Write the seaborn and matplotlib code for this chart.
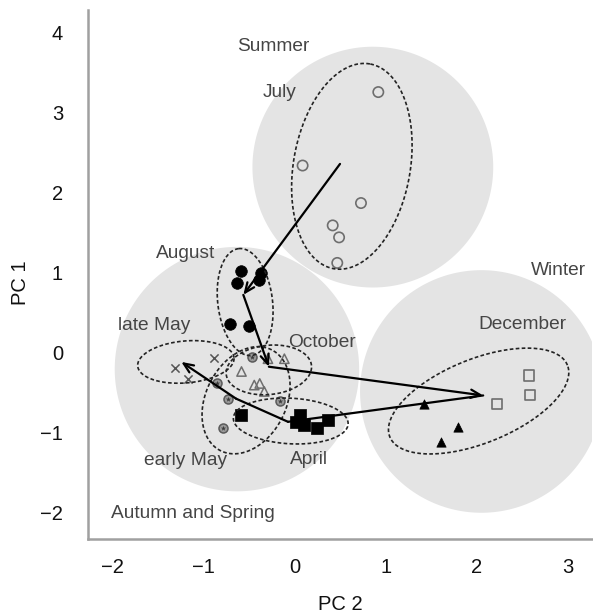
import numpy as np
import pandas as pd
import matplotlib
matplotlib.use("Agg")
import matplotlib.pyplot as plt
import seaborn as sns

# ---------------- data ----------------
july_x = [0.92, 0.09, 0.73, 0.42, 0.49, 0.47]
july_y = [3.26, 2.34, 1.87, 1.59, 1.44, 1.12]
aug_x = [-0.58, -0.37, -0.63, -0.39, -0.71, -0.50]
aug_y = [1.02, 1.00, 0.87, 0.90, 0.36, 0.33]
oct_x = [-0.58, -0.11, -0.44, -0.38, -0.33, -0.29]
oct_y = [-0.24, -0.08, -0.41, -0.39, -0.49, -0.08]
latemay_x = [-1.31, -0.88, -1.17]
latemay_y = [-0.19, -0.07, -0.33]
earlymay_x = [-0.85, -0.73, -0.78, -0.47, -0.16]
earlymay_y = [-0.39, -0.59, -0.95, -0.06, -0.61]
april_x = [-0.58, 0.06, 0.10, 0.25, 0.37, 0.02]
april_y = [-0.79, -0.79, -0.91, -0.95, -0.85, -0.87]
dec_sq_x = [2.57, 2.58, 2.22]
dec_sq_y = [-0.29, -0.53, -0.65]
dec_tri_x = [1.79, 1.61, 1.42]
dec_tri_y = [-0.93, -1.12, -0.65]

# centroid trajectory
path_names = ["July", "August", "October", "December", "April", "early May", "late May"]
path_x = [0.50, -0.56, -0.28, 2.07, -0.07, -0.64, -1.24]
path_y = [2.36, 0.72, -0.18, -0.54, -0.87, -0.58, -0.12]
path_head = [True, True, True, False, False, True]

# season circles (centre, radius in x-units)
season_names = ["Summer", "Autumn and Spring", "Winter"]
season_cx = [0.86, -0.63, 2.05]
season_cy = [2.32, -0.21, -0.49]
season_r = [1.32, 1.34, 1.33]

# month ellipses (centre, semi-axes in x-units, angle in degrees)
ell_names = ["July", "August", "late May", "October", "early May", "April", "December"]
ell_cx = [0.63, -0.54, -1.19, -0.28, -0.53, -0.04, 2.02]
ell_cy = [2.33, 0.63, -0.12, -0.22, -0.60, -0.86, -0.61]
ell_a = [1.14, 0.59, 0.53, 0.47, 0.62, 0.63, 1.05]
ell_b = [0.64, 0.30, 0.23, 0.27, 0.44, 0.25, 0.46]
ell_ang = [80, 97, 5, 6, 63, -3, 22]

# text labels
label_text = ["Summer", "July", "August", "Winter", "December", "late May",
              "October", "early May", "April", "Autumn and Spring"]
label_x = [-0.235, -0.16, -1.19, 2.90, 2.50, -1.54, 0.30, -1.19, 0.16, -1.11]
label_y = [3.83, 3.26, 1.24, 1.02, 0.35, 0.34, 0.12, -1.35, -1.34, -2.02]

x_ticks = [-2, -1, 0, 1, 2, 3]
y_ticks = [-2, -1, 0, 1, 2, 3, 4]

# ---------------- figure ----------------
sns.set_style("white")
plt.rcParams["font.family"] = ["Liberation Sans", "DejaVu Sans"]

fig = plt.figure(figsize=(5.93, 6.13), dpi=100)
ax = fig.add_axes([88 / 593, 74 / 613, 504 / 593, 529 / 613])
ax.set_xlim(-2.263, 3.263)
ax.set_ylim(-2.338, 4.288)

fig.canvas.draw()
p0 = ax.transData.transform((0, 0))
p1 = ax.transData.transform((1, 1))
SX, SY = p1[0] - p0[0], p1[1] - p0[1]
ratio = SX / SY


def ellipse_xy(cx, cy, a, b, ang):
    t = np.linspace(0, 2 * np.pi, 300)
    u, v = a * np.cos(t), b * np.sin(t)
    phi = np.deg2rad(ang)
    dx = u * np.cos(phi) - v * np.sin(phi)
    dy = u * np.sin(phi) + v * np.cos(phi)
    return cx + dx, cy + dy * ratio


# season circles
for cx, cy, r in zip(season_cx, season_cy, season_r):
    ex, ey = ellipse_xy(cx, cy, r, r, 0)
    ax.fill(ex, ey, color="#e4e4e4", lw=0, zorder=0)

# points
groups = [
    (july_x, july_y, "o", "none", "#6e6e6e", 55, 1.2),
    (aug_x, aug_y, "o", "black", "black", 70, 0.5),
    (oct_x, oct_y, "^", "none", "#6e6e6e", 45, 1.1),
    (latemay_x, latemay_y, "x", "#555555", "#555555", 35, 1.1),
    (earlymay_x, earlymay_y, "o", "#9a9a9a", "#5a5a5a", 42, 1.1),
    (april_x, april_y, "s", "black", "black", 70, 0.5),
    (dec_sq_x, dec_sq_y, "s", "none", "#6e6e6e", 55, 1.2),
    (dec_tri_x, dec_tri_y, "^", "black", "black", 45, 0.5),
]
for gx, gy, mk, fc, ec, s, lw in groups:
    df = pd.DataFrame({"x": gx, "y": gy})
    sns.scatterplot(data=df, x="x", y="y", marker=mk, s=s, ax=ax,
                    facecolor=fc, edgecolor=ec, linewidth=lw, zorder=3,
                    legend=False, color=ec if mk == "x" else None)
# star centre for early May symbols
sns.scatterplot(x=earlymay_x, y=earlymay_y, marker="*", s=16, color="#3a3a3a",
                linewidth=0, ax=ax, zorder=4, legend=False)

# dashed ellipses
for cx, cy, a, b, ang in zip(ell_cx, ell_cy, ell_a, ell_b, ell_ang):
    ex, ey = ellipse_xy(cx, cy, a, b, ang)
    ax.plot(ex, ey, color="#222222", lw=1.2, ls=(0, (2.2, 1.4)), zorder=4)

# trajectory
for i in range(len(path_x) - 1):
    xs, ys = path_x[i], path_y[i]
    xe, ye = path_x[i + 1], path_y[i + 1]
    style = "->,head_length=0.7,head_width=0.3" if path_head[i] else "-"
    ax.annotate("", xy=(xe, ye), xytext=(xs, ys),
                arrowprops=dict(arrowstyle=style, color="black", lw=1.6,
                                shrinkA=0, shrinkB=0),
                zorder=5)

# labels
for t, lx, ly in zip(label_text, label_x, label_y):
    ax.text(lx, ly, t, ha="center", va="center", fontsize=13.8,
            color="#454545", zorder=6)

# axes styling
ax.set_xticks(x_ticks)
ax.set_yticks(y_ticks)
ax.set_xticklabels([f"{v}".replace("-", "\u2212") for v in x_ticks])
ax.set_yticklabels([f"{v}".replace("-", "\u2212") for v in y_ticks])
for side in ["top", "right"]:
    ax.spines[side].set_visible(False)
for side in ["left", "bottom"]:
    ax.spines[side].set_color("#a0a0a0")
    ax.spines[side].set_linewidth(1.8)
ax.tick_params(direction="out", length=9, width=1.6, color="#8c8c8c",
               labelsize=14.5, labelcolor="#111111", pad=5)
ax.tick_params(axis="y", pad=9)
ax.set_xlabel("PC 2", fontsize=14.5, color="#111111")
ax.set_ylabel("PC 1", fontsize=14.5, color="#111111")
ax.xaxis.set_label_coords(0.5, -0.105)
ax.yaxis.set_label_coords(-0.115, 0.485)

fig.savefig("out.png", dpi=100)
